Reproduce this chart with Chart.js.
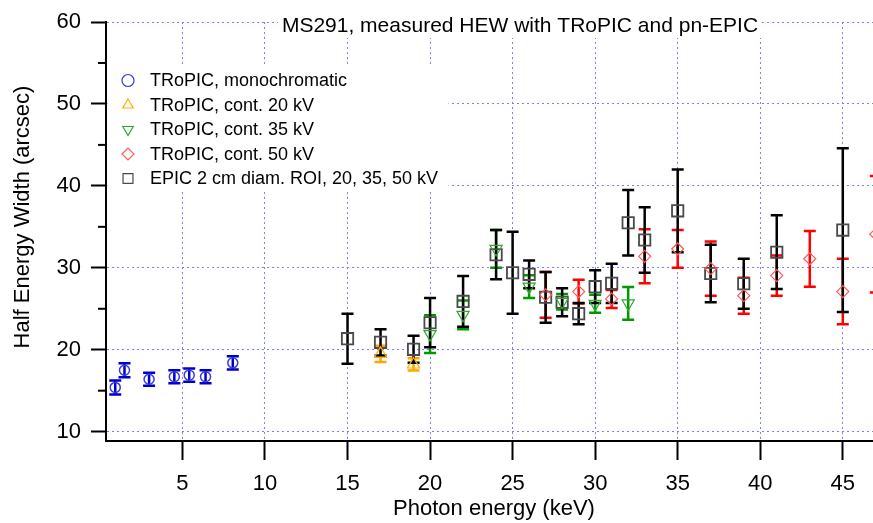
<!DOCTYPE html>
<html>
<head>
<meta charset="utf-8">
<script src="https://cdn.jsdelivr.net/npm/chart.js@4.4.1/dist/chart.umd.min.js"></script>
<style>
    html, body { margin: 0; padding: 0; background: #fff; }
</style>
</head>
<body>
<canvas id="hew-chart" width="873" height="523"></canvas>
<script>
// --- DATA ---
const monoX = [0.93, 1.49, 2.98, 4.51, 5.41, 6.4, 8.05];
const monoY = [15.4, 17.5, 16.4, 16.7, 16.9, 16.7, 18.4];
const monoErr = [0.85, 0.85, 0.8, 0.8, 0.8, 0.8, 0.8];

const cont20X = [17, 19];
const cont20Y = [19.5, 18.2];
const cont20Err = [1.0, 0.75];

const cont35X = [20, 22, 24, 26, 28, 30, 32];
const cont35Y = [21.9, 24.25, 32.3, 27.7, 25.85, 25.6, 25.65];
const cont35Err = [2.3, 1.75, 2.3, 1.4, 0.95, 1.1, 2.0];

const cont50X = [27, 29, 31, 33, 35, 37, 39, 41, 43, 45, 47];
const cont50Y = [26.7, 27.1, 26.2, 31.4, 32.3, 29.9, 26.6, 29.05, 31.1, 27.1, 34.1];
const cont50Err = [2.8, 1.45, 1.1, 3.3, 2.3, 3.3, 2.2, 2.45, 3.4, 4.0, 7.1];

const epicX = [15, 17, 19, 20, 22, 24, 25, 26, 27, 28, 29, 30, 31, 32, 33, 35, 37, 39, 41, 45];
const epicY = [21.35, 20.9, 20.05, 23.3, 25.9, 31.6, 29.4, 29.2, 26.4, 25.8, 24.4, 27.7, 28.1, 35.5, 33.4, 36.95, 29.3, 28.05, 31.9, 34.6];
const epicErr = [3.05, 1.6, 1.65, 3.0, 3.1, 3.0, 5.0, 1.7, 3.1, 1.7, 1.3, 2.0, 2.4, 4.0, 4.0, 5.05, 3.5, 3.05, 4.5, 10.0];

const xTicks = [5, 10, 15, 20, 25, 30, 35, 40, 45];
const yTicks = [10, 20, 30, 40, 50, 60];
const yMinorTicks = [15, 25, 35, 45, 55];

const legendLabels = [
    'TRoPIC, monochromatic',
    'TRoPIC, cont. 20 kV',
    'TRoPIC, cont. 35 kV',
    'TRoPIC, cont. 50 kV',
    'EPIC 2 cm diam. ROI, 20, 35, 50 kV'
];
const chartTitle = 'MS291, measured HEW with TRoPIC and pn-EPIC';
const xTitle = 'Photon energy (keV)';
const yTitle = 'Half Energy Width (arcsec)';

// --- STYLE ---
const FONT = '"Liberation Sans", Arial, sans-serif';
const GRID_BLUE = '#7b7bff';

const SERIES = [
    { xs: monoX, ys: monoY, err: monoErr, bar: '#0000cc', mark: '#3a3ae0', style: 'circle', r: 5, rot: 0, bw: 1.5 },
    { xs: cont20X, ys: cont20Y, err: cont20Err, bar: '#ffa500', mark: '#ffb000', style: 'triangle', r: 7, rot: 0, bw: 1.2 },
    { xs: cont35X, ys: cont35Y, err: cont35Err, bar: '#009900', mark: '#30a830', style: 'triangle', r: 7, rot: 180, bw: 1.2 },
    { xs: cont50X, ys: cont50Y, err: cont50Err, bar: '#ff0000', mark: '#ff5a5a', style: 'rectRot', r: 6, rot: 0, bw: 1.2 },
    { xs: epicX, ys: epicY, err: epicErr, bar: '#000000', mark: '#4a4a4a', style: 'rect', r: 8, rot: 0, bw: 1.8 }
];

// error bars, minor ticks, legend, titles
const decorPlugin = {
    id: 'decor',
    beforeDatasetsDraw(chart) {
        const { ctx, chartArea: area, scales: { x, y } } = chart;
        ctx.save();

        // white patches behind title and legend hide the grid there
        ctx.fillStyle = '#fff';
        ctx.fillRect(278, 6, 484, 32);
        ctx.fillRect(107.5, 67, 341, 125);

        // minor ticks on y
        ctx.strokeStyle = '#000';
        ctx.lineWidth = 2;
        yMinorTicks.forEach(v => {
            const py = y.getPixelForValue(v);
            ctx.beginPath();
            ctx.moveTo(area.left - 8, py);
            ctx.lineTo(area.left, py);
            ctx.stroke();
        });

        // title
        ctx.fillStyle = '#000';
        ctx.textAlign = 'center';
        ctx.textBaseline = 'middle';
        ctx.font = '21px ' + FONT;
        ctx.fillText(chartTitle, 520, 26);

        // axis titles
        ctx.font = '22px ' + FONT;
        ctx.fillText(xTitle, 494, 509);
        ctx.save();
        ctx.translate(23, 217);
        ctx.rotate(-Math.PI / 2);
        ctx.fillText(yTitle, 0, 0);
        ctx.restore();

        // legend
        ctx.font = '18px ' + FONT;
        ctx.textAlign = 'left';
        SERIES.forEach((s, i) => {
            const ly = 80.5 + i * 24.5;
            ctx.strokeStyle = s.mark;
            ctx.fillStyle = 'rgba(0,0,0,0)';
            ctx.lineWidth = 1.2;
            Chart.helpers.drawPoint(ctx, {
                pointStyle: s.style,
                radius: s.style === 'rect' ? 7 : 6,
                rotation: s.rot,
                borderWidth: 1.2
            }, 128, ly);
            ctx.fillStyle = '#000';
            ctx.fillText(legendLabels[i], 150, ly + 1);
        });

        // error bars, clipped to the plot area
        ctx.beginPath();
        ctx.rect(area.left, area.top, area.right - area.left, area.bottom - area.top);
        ctx.clip();
        ctx.lineWidth = 2.5;
        ctx.lineCap = 'butt';
        SERIES.forEach(s => {
            ctx.strokeStyle = s.bar;
            s.xs.forEach((xv, i) => {
                const px = x.getPixelForValue(xv);
                const hi = y.getPixelForValue(s.ys[i] + s.err[i]);
                const lo = y.getPixelForValue(s.ys[i] - s.err[i]);
                ctx.beginPath();
                ctx.moveTo(px, hi);
                ctx.lineTo(px, lo);
                ctx.moveTo(px - 6, hi);
                ctx.lineTo(px + 6, hi);
                ctx.moveTo(px - 6, lo);
                ctx.lineTo(px + 6, lo);
                ctx.stroke();
            });
        });
        ctx.restore();
    }
};

const datasets = SERIES.map((s, k) => ({
    label: legendLabels[k],
    data: s.xs.map((xv, i) => ({ x: xv, y: s.ys[i] })),
    showLine: false,
    pointStyle: s.style,
    pointRadius: s.r,
    pointRotation: s.rot,
    pointBorderWidth: s.bw,
    pointBorderColor: s.mark,
    pointBackgroundColor: 'rgba(0,0,0,0)'
}));

new Chart(document.getElementById('hew-chart').getContext('2d'), {
    type: 'scatter',
    data: { datasets },
    options: {
        responsive: false,
        animation: false,
        layout: { autoPadding: false, padding: { top: 22, right: 0, left: 0, bottom: 0 } },
        plugins: {
            legend: { display: false },
            tooltip: { enabled: false },
            title: { display: false }
        },
        scales: {
            x: {
                type: 'linear',
                min: 0.37,
                max: 46.83,
                afterBuildTicks: s => { s.ticks = xTicks.map(v => ({ value: v })); },
                afterFit: s => { s.height = 82; s.paddingLeft = 0; s.paddingRight = 0; },
                grid: {
                    color: GRID_BLUE,
                    lineWidth: 1,
                    tickColor: '#000',
                    tickWidth: 2,
                    tickLength: 19,
                    tickBorderDash: []
                },
                border: { display: true, color: '#000', width: 2, dash: [2, 3] },
                ticks: {
                    color: '#000',
                    padding: 11,
                    maxRotation: 0,
                    font: { family: FONT, size: 22 }
                }
            },
            y: {
                type: 'linear',
                min: 8.86,
                max: 60,
                afterBuildTicks: s => { s.ticks = yTicks.map(v => ({ value: v })); },
                afterFit: s => { s.width = 106; s.paddingTop = 0; s.paddingBottom = 0; },
                grid: {
                    color: GRID_BLUE,
                    lineWidth: 1,
                    tickColor: '#000',
                    tickWidth: 2,
                    tickLength: 15,
                    tickBorderDash: []
                },
                border: { display: true, color: '#000', width: 2, dash: [2, 3] },
                ticks: {
                    color: '#000',
                    padding: 10,
                    font: { family: FONT, size: 22 }
                }
            }
        }
    },
    plugins: [decorPlugin]
});
</script>
</body>
</html>
